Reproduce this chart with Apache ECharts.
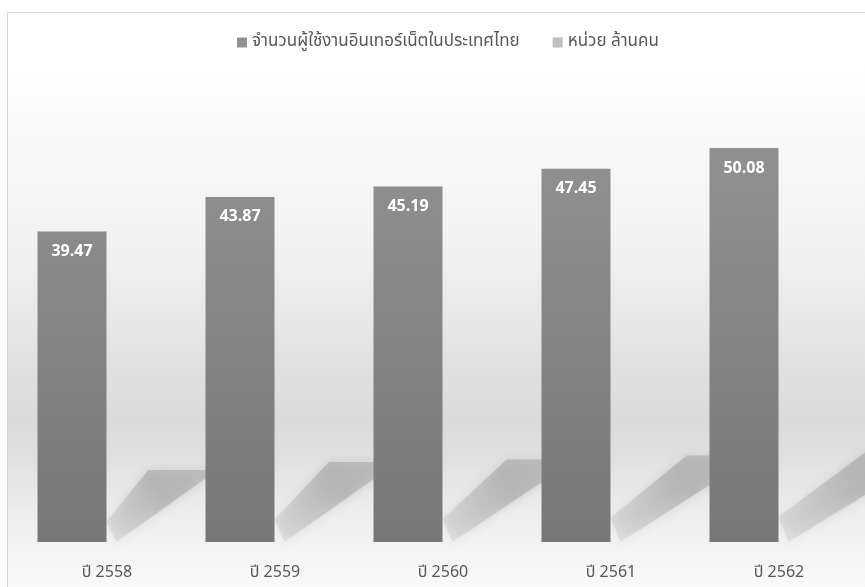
<!DOCTYPE html>
<html>
<head>
<meta charset="utf-8">
<script src="https://cdn.jsdelivr.net/npm/echarts@6/dist/echarts.min.js"></script>
<style>html,body{margin:0;padding:0;background:#fff}#c{width:865px;height:587px}</style>
</head>
<body>
<div id="c"></div>
<script>
var categories = ['ปี 2558', 'ปี 2559', 'ปี 2560', 'ปี 2561', 'ปี 2562'];
var users = [39.47, 43.87, 45.19, 47.45, 50.08];
var seriesName1 = 'จำนวนผู้ใช้งานอินเทอร์เน็ตในประเทศไทย';
var seriesName2 = 'หน่วย ล้านคน';

var FONT = '"Noto Sans Thai","Noto Sans","Open Sans","DejaVu Sans",sans-serif';
var BW = 69;
var chart = echarts.init(document.getElementById('c'), null, {renderer: 'canvas'});
chart.setOption({
  animation: false,
  backgroundColor: '#ffffff',
  graphic: [{
    type: 'rect', z: -10, silent: true,
    shape: {x: 7.5, y: 12.5, width: 900, height: 620},
    style: {
      stroke: '#d9d9d9', lineWidth: 1,
      fill: {type: 'linear', x: 0, y: 0, x2: 0, y2: 1, colorStops: [
        {offset: 0, color: '#ffffff'},
        {offset: 0.12, color: '#fdfdfd'},
        {offset: 0.4, color: '#f0f0f0'},
        {offset: 0.66, color: '#d9d9d9'},
        {offset: 0.8, color: '#ececec'},
        {offset: 0.93, color: '#fafafa'},
        {offset: 1, color: '#ffffff'}
      ]}
    }
  }],
  legend: {
    data: [seriesName1, seriesName2],
    top: 29, left: 232,
    icon: 'rect', itemWidth: 10, itemHeight: 10, itemGap: 33,
    textStyle: {color: '#595959', fontSize: 17, fontFamily: FONT}
  },
  grid: {left: 72, right: 121, top: 70, bottom: 45, containLabel: false},
  xAxis: {
    type: 'category', data: categories, boundaryGap: false,
    axisLine: {show: false}, axisTick: {show: false}, splitLine: {show: false},
    axisLabel: {color: '#595959', fontSize: 16, fontFamily: FONT, margin: 24, padding: [0, 0, 0, 70]}
  },
  yAxis: {type: 'value', min: 0, max: 60, show: false, splitLine: {show: false}},
  series: [
    {
      type: 'custom', name: 'shadow', z: 1, silent: true, clip: false,
      data: users.map(function (v, i) { return [i, v]; }),
      encode: {x: 0, y: 1},
      renderItem: function (params, api) {
        var i = params.dataIndex;
        var base = api.coord([api.value(0), 0]);
        var top = api.coord([api.value(0), api.value(1)]);
        var h = base[1] - top[1];
        var R = 0.232 * h;
        var dx = R * (0.58 + 0.1 * i);
        var xr = base[0] + BW / 2;
        var y0 = base[1];
        return {
          type: 'polygon',
          shape: {points: [
            [xr, y0 - 0.28 * R],
            [xr + dx, y0 - R],
            [xr + dx + BW, y0 - R],
            [xr + 10, y0]
          ]},
          style: {
            fill: {type: 'linear', x: 0, y: 1, x2: 1, y2: 0, colorStops: [
              {offset: 0, color: 'rgba(175,175,175,0.2)'},
              {offset: 0.55, color: 'rgba(165,165,165,0.6)'},
              {offset: 1, color: 'rgba(170,170,170,0.55)'}
            ]},
            shadowBlur: 10, shadowColor: 'rgba(160,160,160,0.6)'
          }
        };
      }
    },
    {
      type: 'bar', name: seriesName1, data: users, z: 3,
      barWidth: BW,
      itemStyle: {
        color: {type: 'linear', x: 0, y: 140, x2: 0, y2: 542, global: true, colorStops: [
          {offset: 0, color: '#919191'},
          {offset: 1, color: '#777777'}
        ]}
      },
      label: {
        show: true, position: 'insideTop', distance: 12,
        color: '#ffffff', fontSize: 16, fontWeight: 'bold', fontFamily: '"Open Sans","DejaVu Sans",sans-serif',
        formatter: function (p) { return p.value.toFixed(2); }
      }
    },
    {
      type: 'line', name: seriesName2, data: [],
      itemStyle: {color: '#bfbfbf'}, lineStyle: {color: '#bfbfbf'}
    }
  ]
});
</script>
</body>
</html>
